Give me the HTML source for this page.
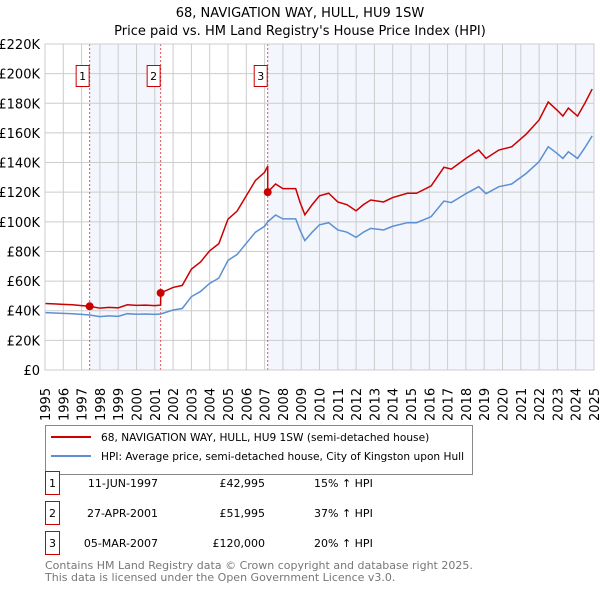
<!DOCTYPE html>
<html><head><meta charset="utf-8"><style>
body{margin:0;background:#fff;font-family:"Liberation Sans","DejaVu Sans",sans-serif;}
svg text{font-family:"DejaVu Sans","Liberation Sans",sans-serif;}
</style></head><body>
<svg id="c" width="600" height="590" xmlns="http://www.w3.org/2000/svg">
<text x="300" y="17" text-anchor="middle" font-size="13">68, NAVIGATION WAY, HULL, HU9 1SW</text>
<text x="300" y="35" text-anchor="middle" font-size="13">Price paid vs. HM Land Registry's House Price Index (HPI)</text>
<g id="plot"></g>
<g>
<rect x="45.5" y="425.5" width="427" height="49" fill="#fff" stroke="#888"/>
<line x1="51" y1="437" x2="91" y2="437" stroke="#cc0000" stroke-width="2"/>
<text x="101" y="441" font-size="10.6">68, NAVIGATION WAY, HULL, HU9 1SW (semi-detached house)</text>
<line x1="51" y1="456" x2="91" y2="456" stroke="#5b8fd4" stroke-width="2"/>
<text x="101" y="460" font-size="10.6">HPI: Average price, semi-detached house, City of Kingston upon Hull</text>
</g>
<g id="table" font-size="11"></g>
<text x="45" y="569" font-size="11" fill="#777">Contains HM Land Registry data © Crown copyright and database right 2025.</text>
<text x="45" y="581" font-size="11" fill="#777">This data is licensed under the Open Government Licence v3.0.</text>
</svg>
<script>
const hpiDates=[1995,1995.5,1996,1996.5,1997,1997.44,1998,1998.5,1999,1999.5,2000,2000.5,2001,2001.32,2002,2002.5,2003,2003.5,2004,2004.5,2005,2005.5,2006,2006.5,2007,2007.17,2007.6,2008,2008.7,2008.93,2009.2,2009.6,2010,2010.5,2011,2011.5,2012,2012.4,2012.8,2013.5,2014,2014.8,2015.3,2016.1,2016.8,2017.2,2017.6,2018,2018.7,2019.1,2019.8,2020.5,2021.3,2022,2022.5,2023,2023.3,2023.6,2024.1,2024.5,2024.9];
const hpiValues=[38.7,38.5,38.2,38.0,37.5,37.1,36.0,36.5,36.2,38.0,37.6,37.8,37.5,37.8,40.5,41.5,49.5,53,58.5,62,74,78,85.5,93,97,100,104.6,102,102,94.5,87.3,93,98,99.4,94.5,93,89.5,93,95.6,94.5,97,99.4,99.4,103.5,114,113,116,119,123.7,119,123.7,125.5,132.7,140.6,150.7,146,142.8,147.3,142.8,150,158];
const saleDates=[1997.44,2001.32,2007.17];
const salePrices=[42995,51995,120000];
const saleLabels=["1","2","3"];
const saleDateText=["11-JUN-1997","27-APR-2001","05-MAR-2007"];
const salePriceText=["£42,995","£51,995","£120,000"];
const saleHpiText=["15% ↑ HPI","37% ↑ HPI","20% ↑ HPI"];
const yTicks=[0,20,40,60,80,100,120,140,160,180,200,220];
const xYears=[];for(let y=1995;y<=2025;y++)xYears.push(y);

const X0=45,X1=594,Y0=370,Y1=44;
const xs=d=>X0+(d-1995)/30*(X1-X0);
const ys=v=>Y0-v/220*(Y0-Y1);
const NS="http://www.w3.org/2000/svg";
const plot=document.getElementById('plot');
function mk(t,a,p){const e=document.createElementNS(NS,t);for(const k in a)e.setAttribute(k,a[k]);(p||plot).appendChild(e);return e;}
function hpiAt(d){for(let i=1;i<hpiDates.length;i++)if(d<=hpiDates[i]){const t=(d-hpiDates[i-1])/(hpiDates[i]-hpiDates[i-1]);return hpiValues[i-1]+t*(hpiValues[i]-hpiValues[i-1]);}return hpiValues[hpiValues.length-1];}
const sh1=mk('rect',{x:xs(saleDates[0]),y:Y1,width:xs(saleDates[1])-xs(saleDates[0]),height:Y0-Y1,fill:'#f3f6fd'});


const sh2=mk('rect',{x:xs(saleDates[2]),y:Y1,width:X1-xs(saleDates[2]),height:Y0-Y1,fill:'#f3f6fd'});


yTicks.forEach(v=>{const l=mk('line',{x1:X0,x2:X1,y1:ys(v),y2:ys(v),stroke:'#ccc'});


const t=mk('text',{x:40,y:ys(v)+5,'text-anchor':'end','font-size':13});t.textContent=v===0?'£0':'£'+v+'K';

});
xYears.forEach(y=>{const l=mk('line',{x1:xs(y),x2:xs(y),y1:Y1,y2:Y0,stroke:'#ccc'});


const t=mk('text',{x:0,y:0,'font-size':13,transform:`translate(${xs(y)+5},${421}) rotate(-90)`});t.textContent=y;

});
saleDates.forEach((d,i)=>{const l=mk('line',{x1:xs(d),x2:xs(d),y1:Y1,y2:Y0,stroke:'#e05555','stroke-dasharray':'2,2'});


const b=mk('rect',{x:xs(d)-13.5,y:65.5,width:13,height:21,fill:'#fff',stroke:'#cc0000'});


const t=mk('text',{x:xs(d)-7,y:80,'text-anchor':'middle','font-size':11});t.textContent=saleLabels[i];

});
const hp=mk('polyline',{points:hpiDates.map((d,i)=>xs(d)+','+ys(hpiValues[i])).join(' '),fill:'none',stroke:'#5b8fd4','stroke-width':1.5});


function factor(d){let k=0;for(let i=0;i<saleDates.length;i++)if(d>=saleDates[i])k=i;return salePrices[k]/1000/hpiAt(saleDates[k]);}
const redPts=[];
hpiDates.forEach((d,i)=>{
 saleDates.forEach((s,j)=>{if(j>0&&i>0&&hpiDates[i-1]<s&&d>=s){const h=hpiAt(s);redPts.push([s,h*salePrices[j-1]/1000/hpiAt(saleDates[j-1])]);redPts.push([s,salePrices[j]/1000]);}});
 redPts.push([d,hpiValues[i]*factor(d)]);});
const rp=mk('polyline',{points:redPts.map(p=>xs(p[0])+','+ys(p[1])).join(' '),fill:'none',stroke:'#cc0000','stroke-width':1.5});


saleDates.forEach((d,i)=>{const c=mk('circle',{cx:xs(d),cy:ys(salePrices[i]/1000),r:4,fill:'#cc0000'});

});
mk('rect',{x:X0,y:Y1,width:X1-X0,height:Y0-Y1,fill:'none',stroke:'#ccc'});
const tb=document.getElementById('table');
saleDates.forEach((d,i)=>{const cy=483+i*30;
const b=mk('rect',{x:45.5,y:cy-11.5,width:14,height:23,fill:'#fff',stroke:'#cc0000'},tb);


[[52.5,saleLabels[i],'middle'],[158,saleDateText[i],'end'],[265,salePriceText[i],'end'],[314,saleHpiText[i],'start']].forEach((c,j)=>{
const t=mk('text',{x:c[0],y:cy+4,'text-anchor':c[2]},tb);t.textContent=c[1];

});});
</script>
</body></html>
